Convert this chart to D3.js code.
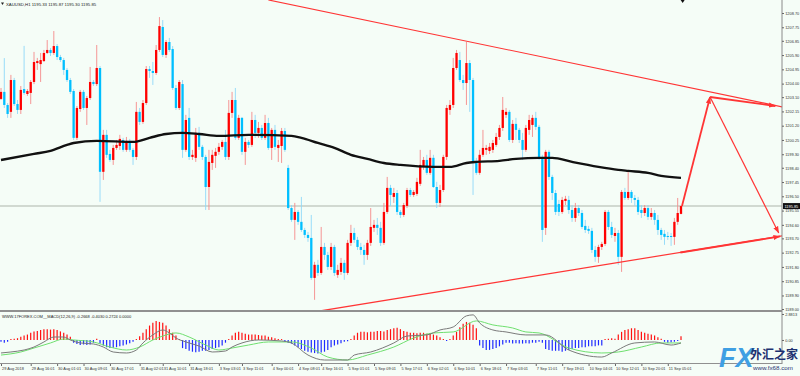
<!DOCTYPE html>
<html>
<head>
<meta charset="utf-8">
<script src="https://cdn.jsdelivr.net/npm/d3@7"></script>
<style>
  html, body { margin: 0; padding: 0; background: #f5fdf7; }
  svg { display: block; font-family: "Liberation Sans", Arial, sans-serif; }
</style>
</head>
<body>
<div class="chart"></div>
<script>
// ---- data (XAUUSD H1) ----
var opens = [
  1202.98,1203.45,1202.58,1202.12,1204.24,1202.64,1202.25,1203.64,1203.31,1203.38,
  1204.11,1205.37,1205.30,1205.50,1206.04,1206.24,1206.04,1206.50,1205.77,1205.57,
  1204.91,1204.24,1203.51,1200.39,1202.31,1203.45,1202.38,1203.04,1204.11,1203.97,
  1205.04,1198.13,1200.59,1199.32,1198.92,1199.72,1199.85,1200.25,1199.59,1200.19,
  1199.59,1199.12,1202.12,1201.45,1202.71,1204.97,1204.84,1204.71,1206.24,1207.77,
  1205.91,1206.77,1206.30,1203.71,1202.38,1203.97,1199.59,1201.72,1199.12,1199.06,
  1200.72,1199.79,1199.12,1197.12,1198.72,1199.19,1199.46,1199.79,1200.12,1199.12,
  1202.05,1202.91,1200.39,1201.72,1199.46,1200.12,1199.92,1201.58,1200.72,1201.05,
  1200.39,1201.38,1199.72,1200.92,1199.72,1199.85,1200.85,1198.39,1195.72,1194.93,
  1195.46,1194.80,1194.26,1193.93,1193.73,1191.07,1191.94,1191.40,1193.13,1192.60,
  1191.80,1193.13,1191.27,1191.47,1192.07,1191.40,1193.40,1194.06,1193.60,1193.13,
  1192.93,1192.60,1193.40,1194.40,1194.60,1194.40,1193.40,1195.46,1197.06,1196.46,
  1196.72,1195.46,1195.26,1195.86,1196.92,1196.59,1196.66,1197.33,1198.46,1198.92,
  1198.06,1199.06,1197.12,1196.06,1196.92,1199.12,1202.25,1202.58,1205.04,1205.57,
  1204.24,1204.04,1205.37,1204.24,1198.72,1198.06,1199.26,1199.59,1199.52,1199.59,
  1199.92,1200.45,1201.05,1201.92,1202.12,1200.25,1201.32,1200.92,1200.25,1199.59,
  1200.92,1201.25,1201.72,1201.12,1199.12,1194.40,1199.46,1197.79,1196.72,1195.99,
  1195.46,1196.19,1196.26,1195.59,1195.06,1195.72,1195.39,1194.53,1194.33,1194.20,
  1192.93,1192.47,1193.13,1193.33,1195.46,1194.46,1193.86,1194.06,1192.47,1196.79,
  1196.39,1196.79,1196.39,1196.26,1195.59,1195.39,1195.72,1195.13,1195.39,1194.93,
  1194.26,1194.00,1193.86,1193.86,1193.80,1194.80,1195.33
];
var highs = [
  1203.71,1205.70,1202.71,1204.58,1204.38,1202.91,1203.84,1206.51,1203.64,1204.24,
  1206.11,1205.71,1206.04,1206.24,1206.90,1206.37,1207.50,1206.63,1205.91,1205.71,
  1205.04,1204.38,1203.64,1202.51,1203.58,1203.58,1203.18,1205.11,1204.24,1206.57,
  1205.17,1200.92,1200.92,1199.59,1199.92,1200.25,1200.59,1200.39,1200.45,1200.32,
  1199.72,1202.78,1202.38,1202.91,1205.17,1205.17,1205.44,1206.57,1208.43,1208.23,
  1206.90,1207.04,1206.50,1203.91,1204.24,1204.24,1201.92,1202.38,1199.59,1201.05,
  1201.12,1199.92,1199.26,1199.59,1199.59,1199.72,1200.05,1200.25,1200.92,1202.91,
  1203.45,1203.71,1201.92,1201.78,1200.39,1200.25,1202.12,1201.92,1201.45,1201.25,
  1201.92,1201.72,1201.05,1201.25,1200.25,1201.05,1201.05,1198.59,1195.92,1196.06,
  1195.59,1196.46,1194.40,1194.13,1195.26,1192.14,1192.27,1194.46,1193.40,1192.80,
  1193.40,1193.27,1191.94,1192.40,1192.27,1193.60,1194.60,1194.40,1193.80,1193.40,
  1193.27,1193.60,1195.72,1194.93,1195.06,1194.80,1196.06,1197.79,1197.26,1197.06,
  1196.92,1195.59,1196.06,1197.06,1197.06,1196.92,1197.73,1199.59,1199.12,1199.26,
  1199.59,1199.26,1197.46,1197.26,1199.26,1202.58,1202.91,1205.71,1206.24,1206.11,
  1204.58,1206.77,1205.57,1204.38,1199.06,1199.59,1200.92,1199.92,1200.05,1200.25,
  1200.72,1201.25,1203.11,1202.38,1202.25,1201.58,1201.72,1201.05,1200.72,1201.25,
  1201.92,1201.92,1202.12,1201.25,1199.26,1199.59,1199.59,1197.93,1196.92,1196.26,
  1196.46,1196.53,1196.53,1195.92,1196.06,1195.92,1195.59,1194.93,1194.53,1194.40,
  1193.20,1193.27,1193.47,1195.59,1195.59,1194.80,1194.40,1194.26,1196.92,1197.06,
  1198.13,1196.92,1196.59,1196.46,1195.92,1195.92,1195.92,1195.72,1195.59,1195.26,
  1194.40,1194.26,1194.13,1194.06,1195.06,1196.39,1195.87
];
var lows = [
  1202.91,1202.38,1201.72,1201.72,1202.51,1201.98,1201.98,1203.25,1203.18,1202.64,
  1203.97,1204.91,1204.11,1205.44,1205.97,1205.84,1205.91,1205.57,1205.44,1204.58,
  1204.11,1203.31,1200.25,1200.25,1202.12,1202.25,1201.25,1202.91,1203.84,1203.84,
  1196.13,1197.59,1199.06,1198.79,1198.59,1199.59,1199.59,1199.46,1199.46,1199.46,
  1198.59,1198.92,1201.25,1201.32,1202.58,1204.38,1203.91,1204.58,1206.11,1205.77,
  1205.71,1206.11,1203.58,1202.25,1202.25,1199.06,1199.46,1198.92,1198.92,1198.79,
  1199.59,1198.92,1195.59,1195.59,1198.26,1198.39,1199.26,1199.59,1198.92,1198.92,
  1201.72,1200.25,1200.25,1199.26,1198.59,1199.72,1199.79,1200.39,1200.39,1200.25,
  1200.25,1199.59,1198.92,1199.59,1198.79,1198.72,1199.46,1195.59,1194.80,1193.60,
  1194.60,1194.13,1193.73,1193.47,1190.94,1189.61,1191.20,1191.27,1192.27,1191.60,
  1191.60,1191.20,1191.07,1191.27,1190.94,1191.27,1193.20,1193.40,1192.93,1192.60,
  1191.94,1192.27,1193.20,1194.13,1193.93,1193.20,1193.27,1195.33,1195.86,1196.06,
  1195.26,1195.06,1195.13,1195.72,1196.46,1196.46,1196.53,1197.19,1198.26,1197.93,
  1197.93,1197.06,1195.72,1195.79,1196.79,1198.92,1201.92,1202.38,1204.91,1204.11,
  1203.58,1202.58,1202.12,1196.59,1197.93,1197.93,1199.12,1199.26,1199.32,1199.39,
  1199.79,1200.25,1200.85,1201.72,1200.12,1200.05,1200.25,1200.05,1198.92,1199.46,
  1200.59,1200.45,1200.92,1198.92,1193.47,1193.93,1197.59,1196.26,1195.26,1195.19,
  1195.33,1195.92,1195.33,1194.80,1194.80,1195.19,1194.33,1194.06,1194.00,1192.73,
  1192.14,1192.07,1192.93,1193.20,1194.26,1193.73,1193.47,1191.94,1191.47,1196.26,
  1196.26,1196.06,1195.86,1195.26,1195.06,1195.19,1194.93,1194.93,1194.60,1193.93,
  1193.60,1193.27,1193.60,1193.20,1193.27,1194.60,1195.30
];
var closes = [
  1203.45,1202.58,1201.98,1204.24,1202.64,1202.25,1203.58,1203.38,1203.51,1204.11,
  1205.44,1205.50,1205.57,1206.04,1206.24,1206.04,1206.50,1205.77,1205.57,1204.91,
  1204.24,1203.45,1200.39,1202.38,1203.45,1202.38,1203.04,1204.11,1203.97,1205.04,
  1198.13,1200.59,1199.26,1198.92,1199.72,1199.92,1200.32,1199.59,1200.19,1199.59,
  1199.12,1202.12,1201.45,1202.71,1204.97,1204.84,1204.71,1206.24,1207.83,1205.91,
  1206.77,1206.24,1203.71,1202.38,1204.11,1199.59,1201.58,1199.12,1199.26,1200.72,
  1199.79,1199.12,1197.12,1198.79,1199.26,1199.46,1199.79,1200.12,1199.12,1202.05,
  1202.91,1200.39,1201.72,1199.46,1200.12,1199.92,1201.58,1200.72,1201.05,1200.39,
  1201.38,1199.72,1200.92,1199.79,1199.92,1200.85,1199.59,1195.72,1194.93,1195.46,
  1194.80,1194.26,1193.93,1193.73,1191.07,1191.94,1191.40,1193.13,1192.60,1191.80,
  1193.13,1191.40,1191.60,1192.07,1191.40,1193.40,1194.06,1193.60,1193.13,1192.93,
  1192.60,1193.40,1194.46,1194.60,1194.40,1193.40,1195.46,1197.06,1196.59,1196.72,
  1195.46,1195.26,1195.92,1196.92,1196.59,1196.79,1197.46,1198.59,1198.92,1198.06,
  1199.06,1197.12,1196.06,1196.92,1199.12,1202.38,1202.58,1205.04,1206.04,1204.24,
  1204.04,1205.37,1204.24,1198.72,1198.06,1199.26,1199.72,1199.72,1199.79,1200.05,
  1200.45,1201.05,1202.25,1202.12,1200.25,1201.32,1200.92,1200.25,1199.59,1201.05,
  1201.58,1201.72,1201.12,1199.12,1194.26,1199.46,1197.79,1196.72,1195.46,1195.46,
  1196.26,1196.33,1195.59,1195.06,1195.72,1195.39,1194.46,1194.26,1194.20,1192.93,
  1192.47,1193.13,1193.33,1195.46,1194.46,1193.93,1194.06,1192.47,1196.79,1196.39,
  1196.79,1196.39,1196.26,1195.46,1195.39,1195.72,1195.13,1195.39,1194.93,1194.26,
  1193.93,1193.80,1193.80,1193.80,1194.80,1195.39,1195.85
];

// moving average (black line), sampled along the curve: bar index / price
var maIdx = [0,10,15,20,22,29,40,45,50,55,60,66,75,88,91,96,101,106,111,116,121,131,136,141,144,151,156,163,167,173,181,187,190,196,200,206];
var maVal = [1198.92,1199.32,1199.52,1199.92,1200.05,1200.19,1200.12,1200.39,1200.65,1200.72,1200.65,1200.52,1200.59,1200.52,1200.39,1200.05,1199.72,1199.26,1198.99,1198.72,1198.59,1198.46,1198.46,1198.72,1198.79,1198.86,1198.99,1199.06,1199.06,1198.79,1198.46,1198.26,1198.19,1198.06,1197.86,1197.73];

// MACD pane
var macdHist = [
  -0.2,-0.3,-0.2,0.1,0.15,0.2,0.35,0.5,0.6,0.8,
  0.95,1.0,1.1,1.2,1.2,1.15,1.2,1.1,0.95,0.8,
  0.6,0.35,-0.3,-0.45,-0.55,-0.5,-0.55,-0.5,-0.3,0.15,
  -0.4,-0.6,-0.8,-0.9,-0.85,-0.8,-0.7,-0.6,-0.5,-0.35,
  -0.2,0.1,0.4,0.8,1.2,1.6,1.9,2.1,2.0,1.9,
  1.6,1.2,0.8,0.5,0.1,-0.9,-1.0,-1.2,-1.3,-1.35,
  -1.3,-1.2,-1.2,-1.1,-1.0,-0.9,-0.8,-0.6,-0.3,0.1,
  0.5,0.8,0.9,0.8,0.7,0.6,0.6,0.6,0.55,0.5,
  0.5,0.35,0.3,0.2,0.1,0.1,-0.2,-0.3,-0.4,-0.6,
  -0.8,-1.0,-1.2,-1.3,-1.4,-1.45,-1.5,-1.4,-1.3,-1.1,
  -0.8,-0.6,-0.5,-0.35,-0.2,-0.15,0.1,0.5,0.8,0.9,
  0.9,0.85,0.9,0.9,1.0,1.0,0.95,1.1,1.2,1.3,
  1.35,1.2,1.0,0.9,0.8,0.8,0.75,0.8,0.8,0.7,
  0.7,0.6,0.5,0.3,0.1,-0.1,0.1,0.5,0.9,1.4,
  1.8,2.0,1.9,1.7,1.3,-0.6,-0.9,-1.1,-1.1,-1.0,
  -0.9,-0.7,-0.5,-0.3,-0.3,-0.4,-0.35,-0.4,-0.4,-0.35,
  -0.4,-0.3,-0.3,-0.2,-0.3,-1.0,-1.1,-1.2,-1.2,-1.2,
  -1.3,-1.2,-1.1,-1.0,-0.9,-0.9,-0.8,-0.8,-0.7,-0.7,
  -0.7,-0.6,-0.6,0.1,0.15,0.2,0.15,0.6,0.9,1.1,
  1.2,1.3,1.3,1.1,0.9,0.8,0.7,0.6,0.5,0.3,
  0.15,-0.2,-0.3,-0.25,-0.2,-0.1,0.4
];
var macdIdx = [0,3,7,10,13,16,19,21,24,28,31,34,38,41,43,46,49,51,53,56,60,64,68,70,73,78,85,88,93,98,105,107,112,119,123,129,133,137,141,143,145,149,153,159,165,172,182,185,192,198,203,206];
var macdVal = [-1.44,-1.33,-1.11,-0.78,-0.22,0.33,0.33,0,-0.33,-0.44,-0.78,-1.33,-1.44,-1.11,-0.33,0.56,1.11,0.78,0.22,-0.22,-0.67,-1.33,-1.22,-0.78,-0.33,0,-0.11,-0.33,-1.67,-2.22,-2.22,-1.67,-1.33,-0.33,0.44,0.56,1.11,1.44,2.67,2.78,1.89,1.11,0.89,0.56,0.56,-1.11,-1.89,-1.44,-0.33,-0.22,-0.56,-0.33];
var signalIdx = [0,6,10,15,19,22,28,33,38,42,46,50,53,57,62,66,70,75,81,88,94,99,105,111,119,125,131,137,144,149,155,159,163,172,182,187,194,200,206];
var signalVal = [-1.67,-1.33,-0.89,-0.33,0.11,0,-0.22,-0.78,-1.11,-0.78,0,0.56,0.78,0.33,-0.56,-1.11,-0.89,-0.56,-0.22,-0.22,-0.89,-1.89,-2.22,-1.67,-0.78,0.22,0.78,0.89,2.11,1.67,1.33,0.89,0.78,-0.89,-1.44,-1.33,-0.78,-0.33,-0.33];

// drawn objects: [bar index, price]
var resistance = [[81, 1209.57], [236.7, 1202.45]];
var support = [[96.7, 1188.87], [236.7, 1193.87]];
var arrowUp = [[206.3, 1195.85], [214.8, 1203.11]];
var arrowDown = [[214.8, 1203.11], [235.6, 1194.06]];
var arrowTopRight = [[214.8, 1203.11], [234.6, 1202.51]];
var arrowLowRight = [[205.8, 1192.76], [236.0, 1193.83]];

// axis labels
var priceTicks = [1208.70,1207.75,1206.85,1205.90,1204.95,1204.00,1203.10,1202.15,1201.20,1200.25,1199.30,1198.40,1197.45,1196.50,1195.55,1194.60,1193.70,1192.75,1191.80,1190.85,1189.90,1189.00];
var macdTicks = [2.8813, 0];
var dateIdx = [0,9,17,25,33,42,49,57,66,73,82,90,97,105,113,121,129,137,145,153,162,170,178,186,194,202];
var dateLabels = ["29 Aug 2018","29 Aug 16:01","30 Aug 01:01","30 Aug 09:01","30 Aug 17:01","31 Aug 02:01","31 Aug 10:01","31 Aug 18:01","3 Sep 03:01","3 Sep 11:01","4 Sep 00:01","4 Sep 08:01","4 Sep 16:01","5 Sep 01:01","5 Sep 09:01","5 Sep 17:01","6 Sep 02:01","6 Sep 10:01","6 Sep 18:01","7 Sep 03:01","7 Sep 11:01","7 Sep 19:01","10 Sep 04:01","10 Sep 12:01","10 Sep 20:01","11 Sep 05:01"];

var lastPrice = 1195.85;

// ---- layout ----
var width = 800, height = 376,
    plotRight = 782,
    mainBottom = 311,
    macdTop = 312, macdBottom = 363,
    axisFont = 3.9;

var x = d3.scaleLinear().domain([0, 206]).range([1, 681]);
var y = d3.scaleLinear().domain([1189.00, 1208.70]).range([309, 13]);
var yMacd = d3.scaleLinear().domain([-2.55, 3.10]).range([macdBottom, macdTop]);

var red = "#ff0000", blue = "#00bfff", lineRed = "#ff3535";

var svg = d3.select(".chart")
    .append("svg")
    .attr("width", width)
    .attr("height", height);

svg.append("rect")
    .attr("width", width).attr("height", height)
    .attr("fill", "#f5fdf7");

var defs = svg.append("defs");
defs.append("clipPath").attr("id", "mainClip")
    .append("rect").attr("x", 0).attr("y", 0).attr("width", plotRight).attr("height", mainBottom);
defs.append("marker")
    .attr("id", "arrow")
    .attr("markerUnits", "userSpaceOnUse")
    .attr("viewBox", "0 0 8 6")
    .attr("refX", 7.5).attr("refY", 3)
    .attr("markerWidth", 7).attr("markerHeight", 5.5)
    .attr("orient", "auto")
    .append("path")
    .attr("d", "M0,0 L8,3 L0,6 Z")
    .attr("fill", lineRed);

var main = svg.append("g").attr("clip-path", "url(#mainClip)");

// current price line
main.append("line")
    .attr("x1", 0).attr("x2", plotRight)
    .attr("y1", y(lastPrice)).attr("y2", y(lastPrice))
    .attr("stroke", "#c4ccc4").attr("stroke-width", 1.5);

// candles
var idx = d3.range(opens.length);
var bodyW = 2.3;

main.selectAll(".wick")
    .data(idx)
    .enter().append("line")
    .attr("class", "wick")
    .attr("x1", function (i) { return x(i); })
    .attr("x2", function (i) { return x(i); })
    .attr("y1", function (i) { return y(highs[i]); })
    .attr("y2", function (i) { return y(lows[i]); })
    .attr("stroke", function (i) { return closes[i] >= opens[i] ? "#f58a8a" : "#8fd8f8"; })
    .attr("stroke-width", 0.9);

main.selectAll(".body")
    .data(idx)
    .enter().append("rect")
    .attr("class", "body")
    .attr("x", function (i) { return x(i) - bodyW / 2; })
    .attr("y", function (i) { return y(Math.max(opens[i], closes[i])); })
    .attr("width", bodyW)
    .attr("height", function (i) { return Math.max(1, Math.abs(y(opens[i]) - y(closes[i]))); })
    .attr("fill", function (i) { return closes[i] >= opens[i] ? red : blue; });

// moving average
var maLine = d3.line()
    .x(function (d, i) { return x(maIdx[i]); })
    .y(function (d) { return y(d); })
    .curve(d3.curveMonotoneX);

main.append("path")
    .datum(maVal)
    .attr("d", maLine)
    .attr("fill", "none")
    .attr("stroke", "#111")
    .attr("stroke-width", 2.4);

// trend lines and arrows
var seg = d3.line()
    .x(function (d) { return x(d[0]); })
    .y(function (d) { return y(d[1]); });

main.append("path").datum(resistance).attr("d", seg)
    .attr("stroke", lineRed).attr("stroke-width", 1.1).attr("fill", "none");
main.append("path").datum(support).attr("d", seg)
    .attr("stroke", lineRed).attr("stroke-width", 1.2).attr("fill", "none");

[[arrowUp, 1.8], [arrowDown, 1.2], [arrowTopRight, 1.8], [arrowLowRight, 1.8]].forEach(function (a) {
    svg.append("path").datum(a[0]).attr("d", seg)
        .attr("stroke", lineRed).attr("stroke-width", a[1]).attr("fill", "none")
        .attr("marker-end", "url(#arrow)");
});

// header
svg.append("path").attr("d", "M1,2.5 L4,2.5 L2.5,5 Z").attr("fill", "#222");
svg.append("text")
    .attr("x", 6).attr("y", 5.5)
    .attr("font-size", 4.3).attr("fill", "#222")
    .text("XAUUSD,H1  1195.33 1195.87 1195.30 1195.85");

// chart shift marker
svg.append("path")
    .attr("d", "M" + (x(206.5) - 2) + ",0 L" + (x(206.5) + 2) + ",0 L" + x(206.5) + ",3 Z")
    .attr("fill", "#111");

// pane borders
svg.append("line").attr("x1", plotRight).attr("x2", plotRight).attr("y1", 0).attr("y2", macdBottom + 1)
    .attr("stroke", "#8a8a8a").attr("stroke-width", 1);
svg.append("line").attr("x1", 0).attr("x2", plotRight).attr("y1", mainBottom).attr("y2", mainBottom)
    .attr("stroke", "#909090").attr("stroke-width", 2);
svg.append("line").attr("x1", 0).attr("x2", plotRight).attr("y1", macdBottom + 0.5).attr("y2", macdBottom + 0.5)
    .attr("stroke", "#909090").attr("stroke-width", 1);

// price axis
var yAxis = svg.append("g")
    .attr("transform", "translate(" + plotRight + ",0)")
    .call(d3.axisRight(y).tickValues(priceTicks).tickSize(2).tickPadding(1.2).tickFormat(d3.format(".2f")));
yAxis.select(".domain").remove();
yAxis.selectAll("line").attr("stroke", "#666");
yAxis.selectAll("text").attr("font-size", axisFont).attr("fill", "#333").attr("font-family", "Liberation Sans, Arial");

// last price box
svg.append("rect")
    .attr("x", plotRight + 1).attr("y", y(lastPrice) - 3)
    .attr("width", 17).attr("height", 6)
    .attr("fill", "#111");
svg.append("text")
    .attr("x", plotRight + 2.5).attr("y", y(lastPrice) + 1.5)
    .attr("font-size", axisFont).attr("fill", "#fff")
    .text(d3.format(".2f")(lastPrice));

// MACD histogram
svg.selectAll(".hist")
    .data(macdHist)
    .enter().append("line")
    .attr("class", "hist")
    .attr("x1", function (d, i) { return x(i); })
    .attr("x2", function (d, i) { return x(i); })
    .attr("y1", yMacd(0))
    .attr("y2", function (d) { return yMacd(d); })
    .attr("stroke", function (d) { return d >= 0 ? "#ff1010" : "#1f2bff"; })
    .attr("stroke-width", 1.2);

var macdLine = d3.line()
    .x(function (d, i) { return x(macdIdx[i]); })
    .y(function (d) { return yMacd(d); })
    .curve(d3.curveMonotoneX);
var signalLine = d3.line()
    .x(function (d, i) { return x(signalIdx[i]); })
    .y(function (d) { return yMacd(d); })
    .curve(d3.curveMonotoneX);

svg.append("path").datum(signalVal).attr("d", signalLine)
    .attr("fill", "none").attr("stroke", "#6fe06f").attr("stroke-width", 1);
svg.append("path").datum(macdVal).attr("d", macdLine)
    .attr("fill", "none").attr("stroke", "#7a7a7a").attr("stroke-width", 1);

svg.append("text")
    .attr("x", 2).attr("y", 317.5)
    .attr("font-size", 4).attr("fill", "#222")
    .text("WWW.17FOREX.COM__MACD(12,26,9) -0.2668 -0.4030 0.2724 0.0000");

var mAxis = svg.append("g")
    .attr("transform", "translate(" + plotRight + ",0)")
    .call(d3.axisRight(yMacd).tickValues(macdTicks).tickSize(2).tickPadding(1.2)
        .tickFormat(function (d) { return d === 0 ? "0.00" : d3.format(".4f")(d); }));
mAxis.select(".domain").remove();
mAxis.selectAll("line").attr("stroke", "#666");
mAxis.selectAll("text").attr("font-size", axisFont).attr("fill", "#333").attr("font-family", "Liberation Sans, Arial");

// time axis
var xAxis = svg.append("g")
    .attr("transform", "translate(0," + (macdBottom + 1) + ")")
    .call(d3.axisBottom(x).tickValues(dateIdx).tickSize(2).tickPadding(1)
        .tickFormat(function (d, i) { return dateLabels[i]; }));
xAxis.select(".domain").remove();
xAxis.selectAll("line").attr("stroke", "#666");
xAxis.selectAll("text")
    .attr("text-anchor", "start")
    .attr("dx", 0.5)
    .attr("font-size", axisFont).attr("fill", "#333").attr("font-family", "Liberation Sans, Arial");

// watermark
var wm = svg.append("g");
wm.append("text")
    .attr("x", 719).attr("y", 367)
    .attr("font-size", 27).attr("font-weight", "bold").attr("font-style", "italic")
    .attr("fill", "#3f9fe3")
    .text("FX");
wm.append("text")
    .attr("x", 750).attr("y", 359)
    .attr("font-size", 12).attr("font-weight", "bold")
    .attr("font-family", "Noto Sans CJK SC")
    .attr("fill", "#1d3170")
    .text("外汇之家");
wm.append("text")
    .attr("x", 753).attr("y", 369.5)
    .attr("font-size", 6.2).attr("fill", "#1d3170")
    .text("www.fx68.com");
</script>
</body>
</html>
